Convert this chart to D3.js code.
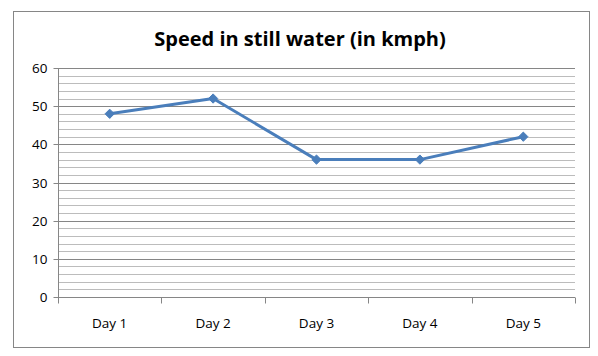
<!DOCTYPE html>
<html><head><meta charset="utf-8">
<script src="https://cdn.jsdelivr.net/npm/d3@7"></script>
<style>body{margin:0;background:#fff}svg{display:block}text{font-family:"Open Sans","Noto Sans",sans-serif}</style>
</head><body>
<script>
const categories = ["Day 1","Day 2","Day 3","Day 4","Day 5"];
const speeds = [48, 52, 36, 36, 42];
const yTicks = [0,10,20,30,40,50,60];
const title = "Speed in still water (in kmph)";

const W=598,H=356;
const svg=d3.select("body").append("svg").attr("width",W).attr("height",H);
svg.append("rect").attr("x",13.5).attr("y",11.5).attr("width",576).attr("height",336)
  .attr("fill","#fff").attr("stroke","#868686").attr("stroke-width",1);

const m={l:58,r:575,t:68,b:297};
const x=d3.scaleBand().domain(categories).range([m.l,m.r]);
const y=d3.scaleLinear().domain([0,60]).range([m.b,m.t]);

// minor gridlines
const minor=d3.range(0,61,2).filter(v=>v%10!==0);
svg.append("g").selectAll("line").data(minor).join("line")
  .attr("x1",m.l).attr("x2",m.r).attr("y1",d=>Math.round(y(d))+0.5).attr("y2",d=>Math.round(y(d))+0.5)
  .attr("stroke","#bcbcbc").attr("stroke-width",1);
// major gridlines
svg.append("g").selectAll("line").data(yTicks.filter(v=>v>0)).join("line")
  .attr("x1",m.l).attr("x2",m.r).attr("y1",d=>Math.round(y(d))+0.5).attr("y2",d=>Math.round(y(d))+0.5)
  .attr("stroke","#868686").attr("stroke-width",1);

// y axis
const ya=svg.append("g").attr("transform",`translate(${m.l+0.5},0)`)
  .call(d3.axisLeft(y).tickValues(yTicks).tickSize(5).tickPadding(6));
ya.select(".domain").attr("stroke","#868686").attr("d",`M-0,${m.t}V${m.b}`);
ya.selectAll(".tick line").attr("stroke","#868686");
ya.selectAll(".tick").attr("transform",d=>`translate(0,${Math.round(y(d))+0.5})`);
ya.selectAll("text").attr("font-size",13.5).attr("fill","#000");

// x axis
const xa=svg.append("g").attr("transform",`translate(0,${m.b+0.5})`);
xa.append("line").attr("x1",m.l).attr("x2",m.r).attr("stroke","#868686");
const bounds=categories.map(c=>x(c)).concat([m.r]);
xa.selectAll(".tk").data(bounds).join("line").attr("class","tk")
  .attr("x1",d=>Math.round(d)+0.5).attr("x2",d=>Math.round(d)+0.5).attr("y1",0).attr("y2",6)
  .attr("stroke","#868686");
xa.selectAll(".lb").data(categories).join("text").attr("class","lb")
  .attr("x",d=>x(d)+x.bandwidth()/2).attr("y",30).attr("text-anchor","middle")
  .attr("font-size",13.5).attr("fill","#000").text(d=>d);

// line
const pts=categories.map((c,i)=>[x(c)+x.bandwidth()/2,y(speeds[i])]);
svg.append("path").attr("d",d3.line()(pts)).attr("fill","none")
  .attr("stroke","#4a7ebb").attr("stroke-width",3).attr("stroke-linejoin","round");
svg.append("g").selectAll("path").data(pts).join("path")
  .attr("transform",d=>`translate(${d[0]},${d[1]})`)
  .attr("d",d3.symbol(d3.symbolDiamond2,55)()).attr("fill","#4a7ebb").attr("stroke","#4a7ebb");

svg.append("text").attr("x",300).attr("y",46).attr("text-anchor","middle")
  .attr("font-size",20).attr("font-weight","bold").attr("fill","#000").text(title);
</script>
</body></html>
